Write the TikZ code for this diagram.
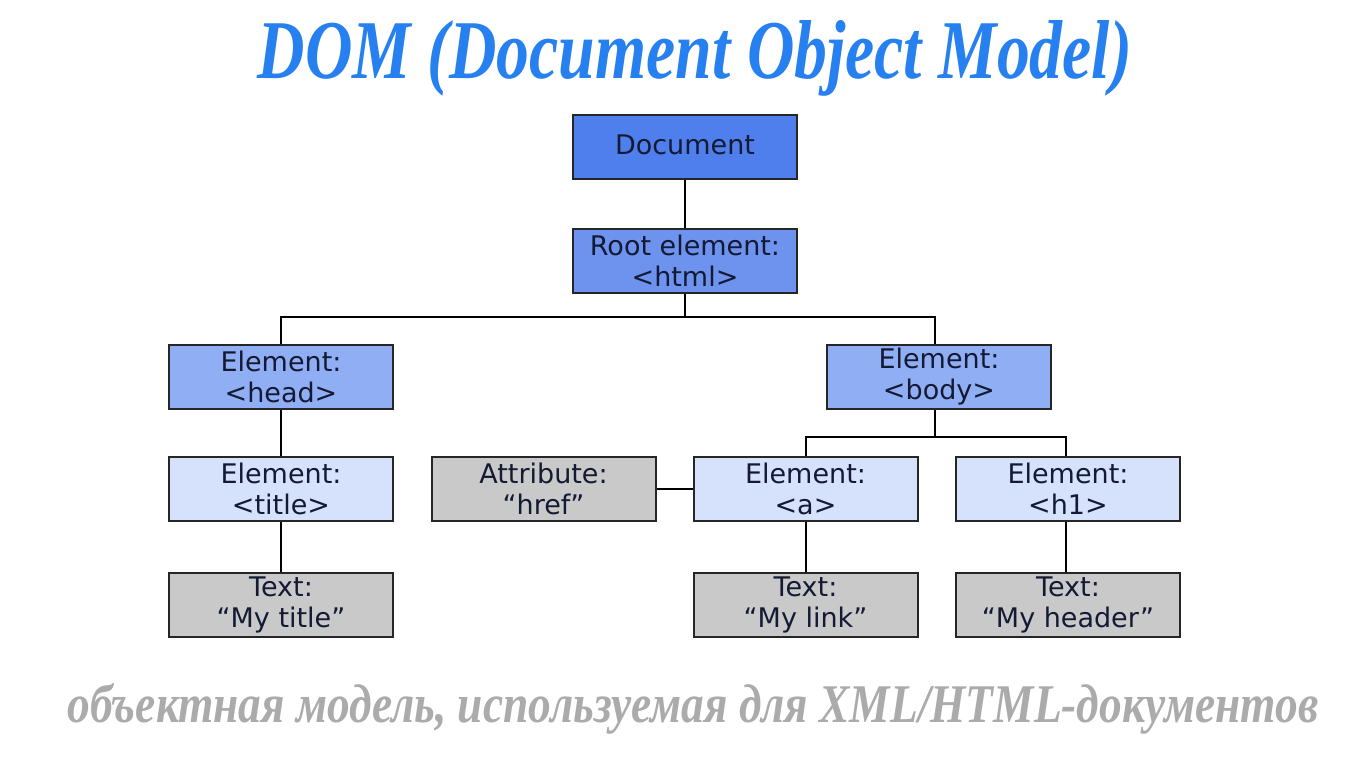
\documentclass[tikz,border=0pt]{standalone}
\usepackage{fontspec}
\setmainfont{DejaVu Sans}
\newfontfamily\titlefont{Liberation Serif}
\definecolor{titleblue}{HTML}{2680F0}
\definecolor{capgray}{HTML}{ABABAB}
\definecolor{cdoc}{HTML}{4F7FEC}
\definecolor{croot}{HTML}{6D93EF}
\definecolor{cmid}{HTML}{90AEF4}
\definecolor{clight}{HTML}{D6E2FB}
\definecolor{cgray}{HTML}{C9C9C9}
\definecolor{ink}{HTML}{141A33}
\tikzset{
  box/.style={draw=black!85, line width=2pt, minimum width=224pt, minimum height=64pt,
    inner sep=0pt, align=center, text=ink, font=\fontsize{27}{31}\selectfont},
  docbox/.style={box, fill=cdoc},
  rootbox/.style={box, fill=croot},
  midbox/.style={box, fill=cmid},
  lightbox/.style={box, fill=clight},
  graybox/.style={box, fill=cgray},
  link/.style={draw=black, line width=2.2pt}
}
\begin{document}
\begin{tikzpicture}[x=1pt,y=-1pt]
\useasboundingbox (0,0) rectangle (1366,768);
\fill[white] (0,0) rectangle (1366,768);
\node[anchor=base, text=titleblue] (ttl) at (695,78)
  {\resizebox{874pt}{58pt}{\titlefont\bfseries\itshape DOM (Document Object Model)}};
\node[docbox] (doc) at (685,147) {\raisebox{4pt}{Document}};
\node[rootbox] (root) at (685,261) {Root element:\\<html>};
\node[midbox] (head) at (281,377) {Element:\\<head>};
\node[midbox] (body) at (939,377) {Element:\\<body>};
\node[lightbox] (title) at (281,489) {Element:\\<title>};
\node[graybox] (attr) at (543.5,489) {Attribute:\\“href”};
\node[lightbox] (a) at (805.5,489) {Element:\\<a>};
\node[lightbox] (h1) at (1068,489) {Element:\\<h1>};
\node[graybox] (t1) at (281,605) {Text:\\“My title”};
\node[graybox] (t2) at (805.5,605) {Text:\\“My link”};
\node[graybox] (t3) at (1068,605) {Text:\\“My header”};
\coordinate (j1) at (685,317);
\coordinate (j2) at (935,437);
\draw[link] (doc) -- (root);
\draw[link] (root) -- (j1);
\draw[link] (head.north) |- (j1) -| ([xshift=-4pt]body.north);
\draw[link] (head) -- (title);
\draw[link] (title) -- (t1);
\draw[link] ([xshift=-4pt]body.south) -- (j2);
\draw[link] ([xshift=0.5pt]a.north) |- (j2) -| ([xshift=-2pt]h1.north);
\draw[link] (attr) -- (a);
\draw[link] ([xshift=0.5pt]a.south) -- ([xshift=0.5pt]t2.north);
\draw[link] ([xshift=-2pt]h1.south) -- ([xshift=-2pt]t3.north);
\node[anchor=base, text=capgray] (cap) at (693,722)
  {\resizebox{1250pt}{39pt}{\titlefont\bfseries\itshape объектная модель, используемая для XML/HTML-документов}};
\end{tikzpicture}
\end{document}
